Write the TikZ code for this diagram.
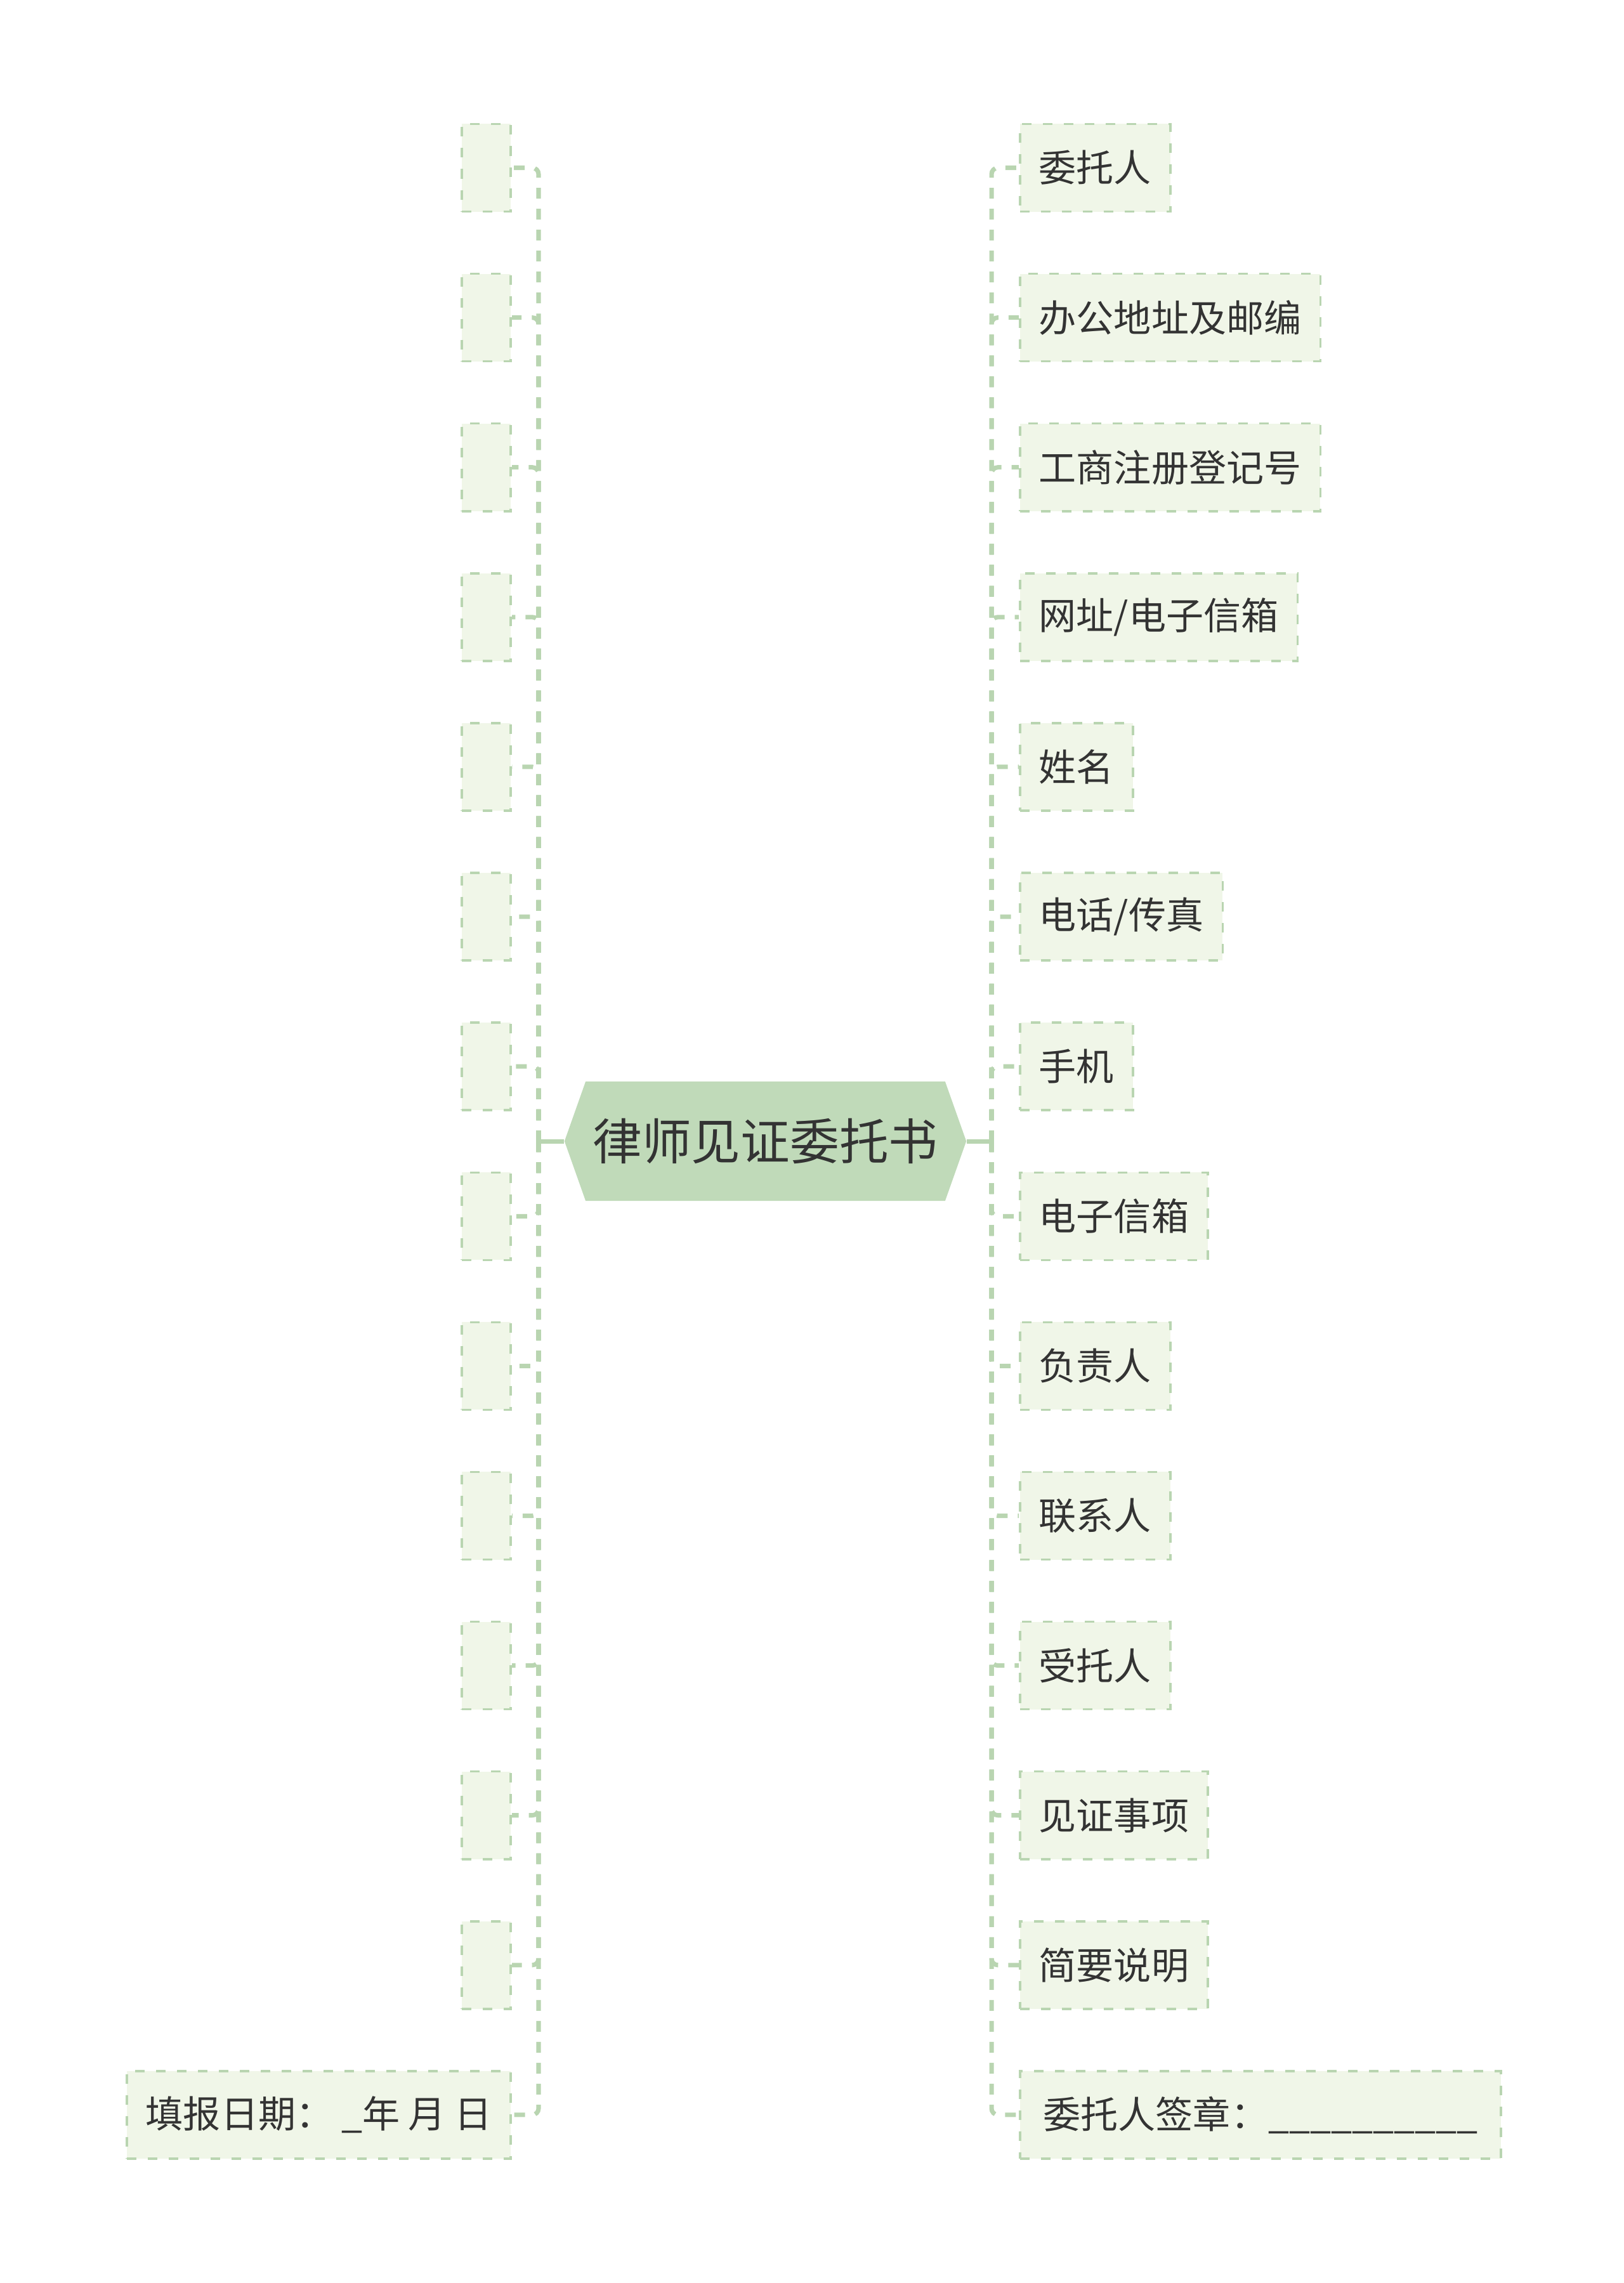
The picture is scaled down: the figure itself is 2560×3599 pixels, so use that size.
\documentclass[tikz,border=0pt]{standalone}
\usepackage{fontspec}
\setmainfont{Noto Sans CJK SC}
\usepackage{tikz}
\usetikzlibrary{positioning, calc, shapes.geometric, shapes.symbols}
\usepackage{xcolor}
\definecolor{wtsRoot}{HTML}{C0DAB9}
\definecolor{wtsBlock}{HTML}{F0F6E8}
\definecolor{wtsBorder}{HTML}{B9D5B1}
\definecolor{wtsText}{HTML}{333333}

\begin{document}
\begin{tikzpicture}[
        x=0.01cm, y=-0.01cm,
        root/.style={
            shape=signal,
            signal to=west and east,
            signal pointer angle=141,
            fill=wtsRoot,
            minimum width=6.33cm,
            minimum height=1.88cm,
            inner sep=0pt,
            text=wtsText,
            font=\fontsize{22.1pt}{26pt}\selectfont
        },
        block/.style={
            draw=wtsBorder,
            line width=1pt,
            dash pattern=on 0.15cm off 0.18cm,
            fill=wtsBlock,
            minimum height=1.38cm,
            inner xsep=0.3cm,
            text=wtsText,
            font=\fontsize{16.8pt}{20pt}\selectfont
        },
        blank/.style={
            block,
            minimum width=0.77cm
        },
        stem/.style={
            draw=wtsBorder,
            line width=2pt
        },
        link/.style={
            draw=wtsBorder,
            line width=2pt,
            dash pattern=on 0.17cm off 0.16cm,
            rounded corners=0.1cm
        }
    ]
    \useasboundingbox (0,0) rectangle (2560,3599);

    \node[root] (title) at (1206.5,1799) {律师见证委托书};
    \coordinate (ljoin) at (849,1799);
    \coordinate (rjoin) at (1563,1799);

    % right branch
    \node[block, anchor=west] (r1) at (1606,264.5) {委托人};
    \node[block, anchor=west] (r2) at (1606,500.6) {办公地址及邮编};
    \node[block, anchor=west] (r3) at (1606,736.7) {工商注册登记号};
    \node[block, anchor=west] (r4) at (1606,972.8) {网址/电子信箱};
    \node[block, anchor=west] (r5) at (1606,1208.9) {姓名};
    \node[block, anchor=west] (r6) at (1606,1445.0) {电话/传真};
    \node[block, anchor=west] (r7) at (1606,1681.1) {手机};
    \node[block, anchor=west] (r8) at (1606,1917.3) {电子信箱};
    \node[block, anchor=west] (r9) at (1606,2153.4) {负责人};
    \node[block, anchor=west] (r10) at (1606,2389.5) {联系人};
    \node[block, anchor=west] (r11) at (1606,2625.6) {受托人};
    \node[block, anchor=west] (r12) at (1606,2861.7) {见证事项};
    \node[block, anchor=west] (r13) at (1606,3097.8) {简要说明};
    \node[block, anchor=west, minimum width=7.58cm] (r14) at (1606,3333.9) {委托人签章：\_\_\_\_\_\_\_\_\_\_};

    % left branch
    \node[blank, anchor=east] (l1) at (807,264.5) {};
    \node[blank, anchor=east] (l2) at (807,500.6) {};
    \node[blank, anchor=east] (l3) at (807,736.7) {};
    \node[blank, anchor=east] (l4) at (807,972.8) {};
    \node[blank, anchor=east] (l5) at (807,1208.9) {};
    \node[blank, anchor=east] (l6) at (807,1445.0) {};
    \node[blank, anchor=east] (l7) at (807,1681.1) {};
    \node[blank, anchor=east] (l8) at (807,1917.3) {};
    \node[blank, anchor=east] (l9) at (807,2153.4) {};
    \node[blank, anchor=east] (l10) at (807,2389.5) {};
    \node[blank, anchor=east] (l11) at (807,2625.6) {};
    \node[blank, anchor=east] (l12) at (807,2861.7) {};
    \node[blank, anchor=east] (l13) at (807,3097.8) {};
    \node[block, anchor=east] (l14) at (807,3333.9) {填报日期： \_年 月 日};

    \draw[stem] (title.east) -- (rjoin);
    \draw[stem] (title.west) -- (ljoin);

    \draw[link] (rjoin) |- (r1.west);
    \draw[link] (rjoin) |- (r2.west);
    \draw[link] (rjoin) |- (r3.west);
    \draw[link] (rjoin) |- (r4.west);
    \draw[link] (rjoin) |- (r5.west);
    \draw[link] (rjoin) |- (r6.west);
    \draw[link] (rjoin) |- (r7.west);
    \draw[link] (rjoin) |- (r8.west);
    \draw[link] (rjoin) |- (r9.west);
    \draw[link] (rjoin) |- (r10.west);
    \draw[link] (rjoin) |- (r11.west);
    \draw[link] (rjoin) |- (r12.west);
    \draw[link] (rjoin) |- (r13.west);
    \draw[link] (rjoin) |- (r14.west);

    \draw[link] (ljoin) |- (l1.east);
    \draw[link] (ljoin) |- (l2.east);
    \draw[link] (ljoin) |- (l3.east);
    \draw[link] (ljoin) |- (l4.east);
    \draw[link] (ljoin) |- (l5.east);
    \draw[link] (ljoin) |- (l6.east);
    \draw[link] (ljoin) |- (l7.east);
    \draw[link] (ljoin) |- (l8.east);
    \draw[link] (ljoin) |- (l9.east);
    \draw[link] (ljoin) |- (l10.east);
    \draw[link] (ljoin) |- (l11.east);
    \draw[link] (ljoin) |- (l12.east);
    \draw[link] (ljoin) |- (l13.east);
    \draw[link] (ljoin) |- (l14.east);
\end{tikzpicture}
\end{document}
